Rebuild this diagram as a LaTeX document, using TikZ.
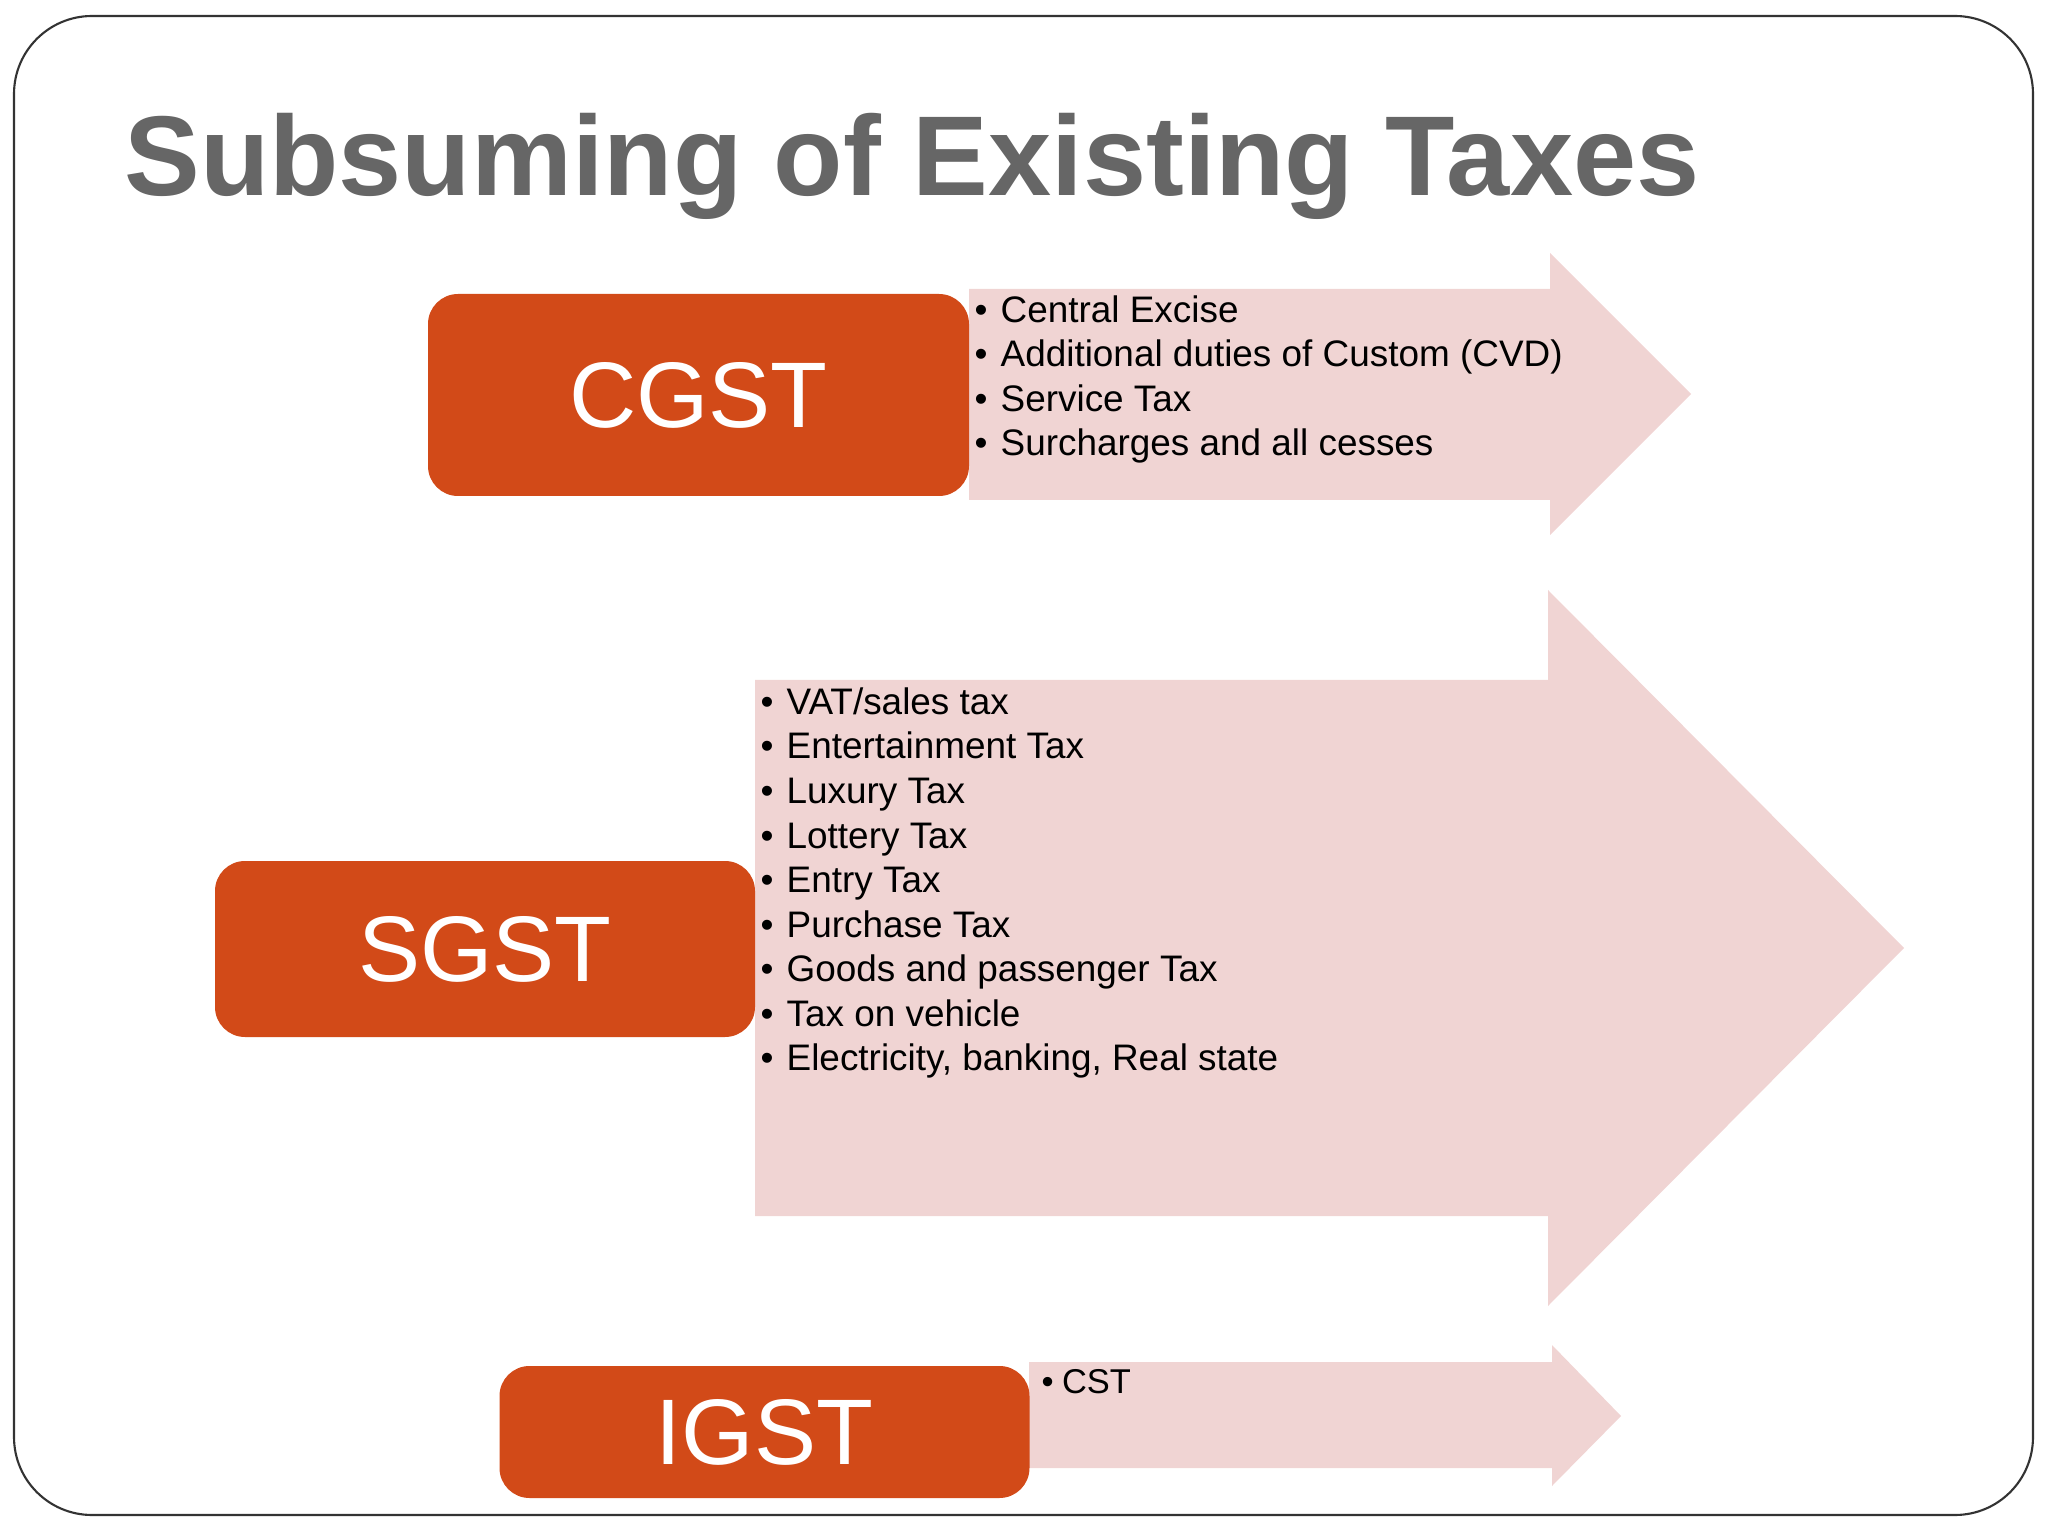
\documentclass[tikz,border=0pt]{standalone}
\usepackage{fontspec}
\setmainfont{Liberation Sans}
\usepackage{tikz}
\definecolor{gstorange}{HTML}{D24A18}
\definecolor{gstpink}{HTML}{F0D4D3}
\definecolor{titlegray}{HTML}{666666}
\newcommand{\taxitem}[1]{\makebox[7.4pt][l]{\textbullet}#1}

\begin{document}
\begin{tikzpicture}[x=1cm,y=-1cm,
    gstbox/.style={fill=gstorange,rounded corners=0.3cm,text=white,inner sep=0pt,
        font=\fontsize{26.5}{30}\selectfont},
    taxline/.style={anchor=base west,inner sep=0pt,font=\fontsize{10.5}{12}\selectfont}]
    \useasboundingbox (0,0) rectangle (20.48,15.36);
    \draw [line width=0.6pt,color=black!80,rounded corners=0.78cm] (0.14,0.16) rectangle (20.33,15.15);

    \node [anchor=base west,text=titlegray,font=\fontsize{32.3}{40}\selectfont\bfseries] (title)
        at (1.12,1.96) {Subsuming of Existing Taxes};

    % block arrows
    \fill [gstpink] (9.69,2.89) -- (15.50,2.89) -- (15.50,2.53) -- (16.91,3.94)
        -- (15.50,5.35) -- (15.50,5.00) -- (9.69,5.00) -- cycle;
    \fill [gstpink] (7.55,6.80) -- (15.48,6.80) -- (15.48,5.90) -- (19.04,9.48)
        -- (15.48,13.06) -- (15.48,12.16) -- (7.55,12.16) -- cycle;
    \fill [gstpink] (10.29,13.62) -- (15.52,13.62) -- (15.52,13.45) -- (16.21,14.16)
        -- (15.52,14.86) -- (15.52,14.68) -- (10.29,14.68) -- cycle;

    \node [gstbox,minimum width=5.41cm,minimum height=2.02cm] (cgst) at (6.985,3.95) {CGST};
    \node [gstbox,minimum width=5.40cm,minimum height=1.76cm] (sgst) at (4.85,9.49) {SGST};
    \node [gstbox,minimum width=5.30cm,minimum height=1.32cm] (igst) at (7.645,14.32) {IGST};

    \foreach \t [count=\i] in {Central Excise,Additional duties of Custom (CVD),
        Service Tax,Surcharges and all cesses}{%
        \node [taxline] (c\i) at (9.74,{3.226+(\i-1)*0.444}) {\taxitem{\t}};}

    \foreach \t [count=\i] in {VAT/sales tax,Entertainment Tax,Luxury Tax,Lottery Tax,
        Entry Tax,Purchase Tax,Goods and passenger Tax,Tax on vehicle,
        {Electricity, banking, Real state}}{%
        \node [taxline] (s\i) at (7.60,{7.144+(\i-1)*0.4457}) {\taxitem{\t}};}

    \node [taxline,font=\fontsize{9.8}{12}\selectfont] (i1) at (10.41,13.935)
        {\makebox[5.8pt][l]{\textbullet}CST};
\end{tikzpicture}
\end{document}
